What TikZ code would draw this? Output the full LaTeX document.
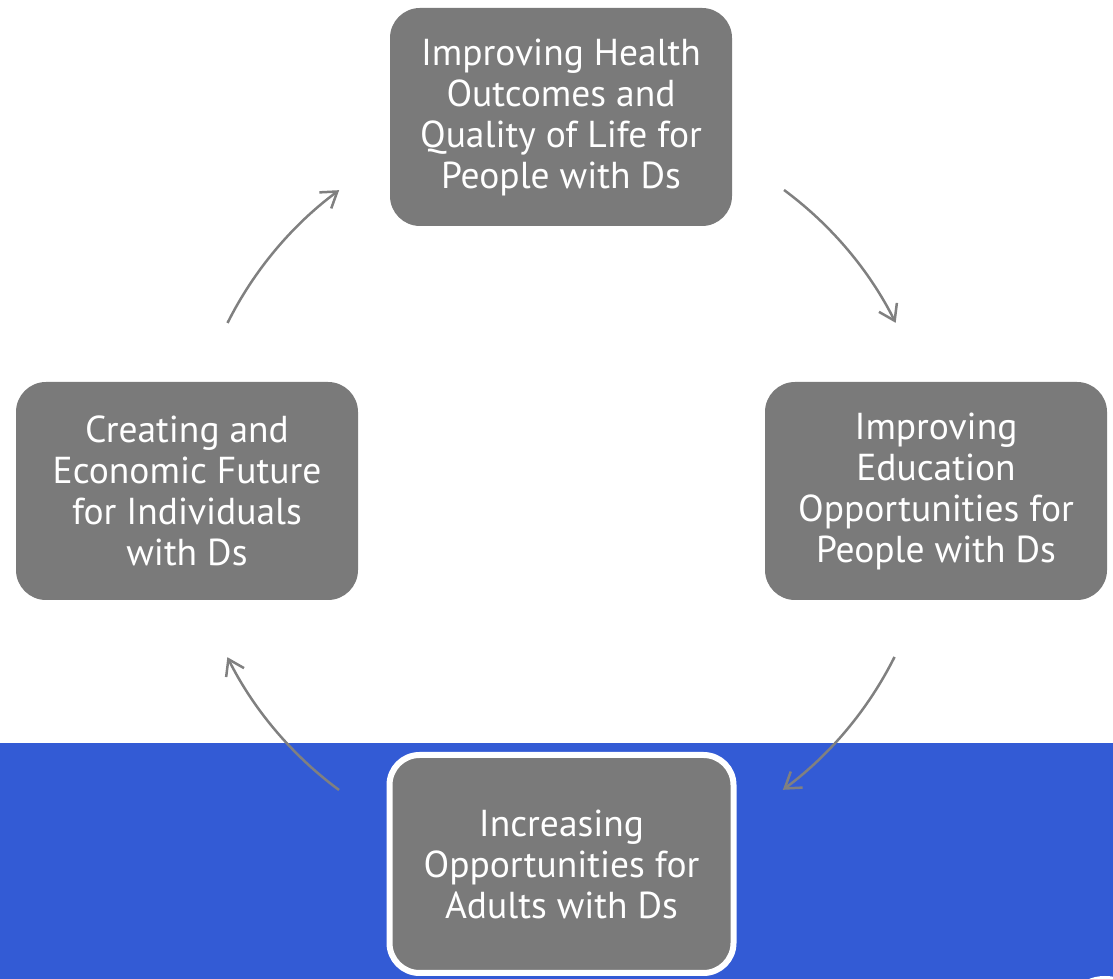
\documentclass[tikz,border=0pt]{standalone}
\usepackage{fontspec}
\setmainfont{PT Sans}
\usetikzlibrary{arrows.meta}
\definecolor{bandblue}{RGB}{51,91,213}
\definecolor{boxgray}{RGB}{122,122,122}
\definecolor{arrowgray}{RGB}{128,128,128}

\begin{document}
\begin{tikzpicture}[x=1pt,y=1pt,
    box/.style={fill=boxgray, rounded corners=30pt, minimum width=342pt, minimum height=218pt,
      align=center, text=white, font=\fontsize{37.5}{41}\selectfont},
    cyc/.style={draw=arrowgray, line width=2.5pt, -{Straight Barb[length=15pt,width=20pt]}}]
    \useasboundingbox (0,0) rectangle (1113,979);

    % Blue band at the bottom
    \fill[bandblue] (0,0) rectangle (1113,236);
    \fill[white] (1105,-10) ellipse [x radius=25, y radius=13];

    % Boxes
    \node[box] (health) at (561,862) {Improving Health\\Outcomes and\\Quality of Life for\\People with Ds};
    \node[box] (educ) at (936,488) {Improving\\Education\\Opportunities for\\People with Ds};
    \node[box, draw=white, line width=6pt, minimum width=344pt] (adults) at (561.5,115) {Increasing\\Opportunities for\\Adults with Ds};
    \node[box] (econ) at (187,488) {Creating and\\Economic Future\\for Individuals\\with Ds};

    % Arc starts (circle round (561,489), radius 373)
    \coordinate (s1) at (784,789);
    \coordinate (s2) at (894.5,322);
    \coordinate (s3) at (339,189);
    \coordinate (s4) at (227.5,656);

    % Cycle arrows
    \draw[cyc] (s1) arc[start angle=53.5, end angle=26.6, radius=373];
    \draw[cyc] (s2) arc[start angle=-26.6, end angle=-53.5, radius=373];
    \draw[cyc] (s3) arc[start angle=233.5, end angle=206.6, radius=373];
    \draw[cyc] (s4) arc[start angle=153.4, end angle=126.5, radius=373];
\end{tikzpicture}
\end{document}
